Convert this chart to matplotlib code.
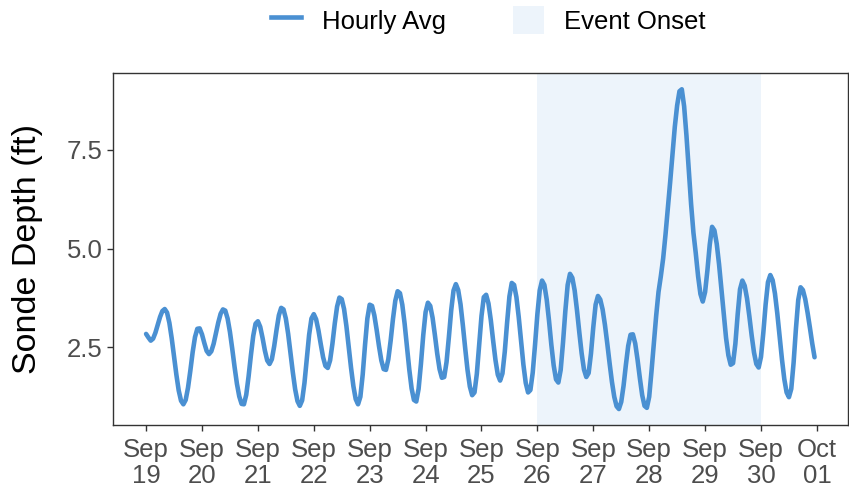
import numpy as np
import pandas as pd
import matplotlib
matplotlib.use('Agg')
import matplotlib.pyplot as plt
from matplotlib.patches import Patch
from matplotlib.lines import Line2D

plt.rcParams['font.family'] = ['Liberation Sans', 'DejaVu Sans']

# hourly average sonde depth (ft), starting Sep 19 00:00
depth = [
    2.84, 2.75, 2.67, 2.72, 2.87, 3.07, 3.27, 3.42, 3.47, 3.38,
    3.12, 2.73, 2.27, 1.81, 1.41, 1.15, 1.06, 1.17, 1.48, 1.91,
    2.38, 2.76, 2.97, 2.98, 2.83, 2.61, 2.41, 2.33, 2.40, 2.59,
    2.86, 3.13, 3.35, 3.46, 3.43, 3.23, 2.89, 2.46, 2.00, 1.58,
    1.26, 1.07, 1.06, 1.30, 1.76, 2.30, 2.79, 3.10, 3.16, 3.02,
    2.74, 2.42, 2.17, 2.08, 2.20, 2.53, 2.94, 3.31, 3.50, 3.46,
    3.23, 2.84, 2.36, 1.87, 1.44, 1.14, 1.02, 1.16, 1.60, 2.21,
    2.82, 3.23, 3.34, 3.21, 2.93, 2.58, 2.25, 2.03, 1.98, 2.17,
    2.59, 3.10, 3.53, 3.76, 3.72, 3.47, 3.04, 2.52, 1.98, 1.52,
    1.19, 1.06, 1.25, 1.81, 2.56, 3.23, 3.58, 3.55, 3.31, 2.94,
    2.53, 2.17, 1.95, 1.93, 2.20, 2.67, 3.22, 3.68, 3.92, 3.87,
    3.58, 3.10, 2.52, 1.94, 1.46, 1.17, 1.13, 1.45, 2.08, 2.81,
    3.39, 3.63, 3.55, 3.25, 2.81, 2.34, 1.95, 1.73, 1.75, 2.13,
    2.76, 3.44, 3.94, 4.10, 3.95, 3.59, 3.06, 2.48, 1.93, 1.51,
    1.29, 1.36, 1.83, 2.56, 3.29, 3.77, 3.83, 3.61, 3.19, 2.67,
    2.18, 1.81, 1.66, 1.84, 2.39, 3.13, 3.79, 4.13, 4.08, 3.77,
    3.26, 2.65, 2.06, 1.60, 1.36, 1.42, 1.86, 2.57, 3.34, 3.94,
    4.19, 4.08, 3.71, 3.17, 2.56, 2.04, 1.69, 1.61, 1.93, 2.62,
    3.42, 4.08, 4.36, 4.26, 3.94, 3.44, 2.88, 2.35, 1.94, 1.75,
    1.85, 2.34, 3.01, 3.58, 3.80, 3.71, 3.46, 3.07, 2.60, 2.10,
    1.63, 1.25, 1.01, 0.94, 1.12, 1.53, 2.06, 2.54, 2.82, 2.83,
    2.60, 2.19, 1.72, 1.29, 1.02, 0.97, 1.25, 1.90, 2.60, 3.30,
    3.90, 4.30, 4.75, 5.35, 6.00, 6.68, 7.38, 8.08, 8.62, 8.98,
    9.03, 8.60, 7.86, 7.00, 6.12, 5.40, 4.88, 4.30, 3.85, 3.66,
    3.90, 4.45, 5.10, 5.55, 5.46, 5.12, 4.60, 3.97, 3.32, 2.74,
    2.30, 2.06, 2.10, 2.59, 3.34, 3.97, 4.19, 4.06, 3.74, 3.29,
    2.80, 2.37, 2.08, 1.99, 2.26, 2.87, 3.59, 4.15, 4.33, 4.20,
    3.86, 3.36, 2.78, 2.20, 1.70, 1.36, 1.24, 1.45, 2.11, 2.97,
    3.70, 4.02, 3.95, 3.72, 3.38, 3.00, 2.60, 2.25,
]
times = pd.date_range('2023-09-19 00:00', periods=len(depth), freq='h')

event_start = pd.Timestamp('2023-09-26')
event_end = pd.Timestamp('2023-09-30')
tick_days = pd.date_range('2023-09-19', '2023-10-01', freq='D')
y_ticks = [2.5, 5.0, 7.5]

line_col = '#4A90D2'
shade_col = '#EDF4FB'

fig = plt.figure(figsize=(8.49, 4.91), dpi=100)
ax = fig.add_axes([0.1327, 0.1344, 0.8661, 0.7163])

ax.axvspan(event_start, event_end, color=shade_col, lw=0, zorder=0)
ax.plot(times, depth, color=line_col, lw=3.3, solid_joinstyle='round',
        solid_capstyle='round', zorder=2)

ax.margins(x=0.05, y=0.05)
ax.set_xticks(tick_days)
ax.set_xticklabels([d.strftime('%b\n%d') for d in tick_days], linespacing=1.12)
ax.set_yticks(y_ticks)
ax.set_yticklabels(['%.1f' % v for v in y_ticks])
ax.tick_params(labelsize=18.5, labelcolor='#4D4D4D', color='#333333',
               length=4, width=1, pad=3)
ax.tick_params(axis='x', pad=5)

for s in ax.spines.values():
    s.set_color('#333333')
    s.set_linewidth(1)

ax.set_ylabel('Sonde Depth (ft)', fontsize=24.5, color='black')
ax.yaxis.set_label_coords(-0.0948, 0.5)

handles = [Line2D([], [], color=line_col, lw=3.3),
           Patch(facecolor=shade_col, edgecolor='none')]
fig.legend(handles, ['Hourly Avg', 'Event Onset'], loc='center',
           bbox_to_anchor=(0.575, 0.959), ncol=2, frameon=False, fontsize=18.5,
           handlelength=1.2, handleheight=1.3, handletextpad=0.8,
           columnspacing=2.6)

fig.savefig('out.png', dpi=100)
